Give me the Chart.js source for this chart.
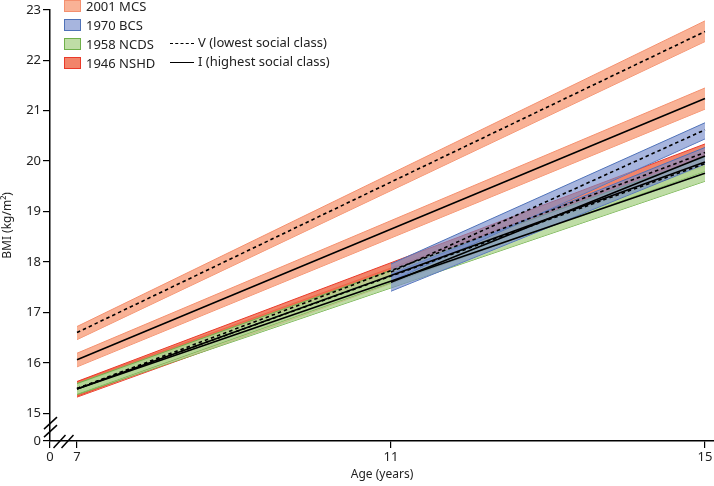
<!DOCTYPE html>
<html>
<head>
<meta charset="utf-8">
<script src="https://cdn.jsdelivr.net/npm/chart.js@4.4.1/dist/chart.umd.min.js"></script>
<style>
  body { margin: 0; background: #fff; font-family: "Noto Sans", sans-serif; }
  #wrap { position: relative; width: 714px; height: 486px; }
  #legend { position: absolute; left: 0; top: 0; font-size: 13px; color: #222; }
  .item { position: absolute; white-space: nowrap; line-height: 16px; }
  .box { position: absolute; width: 15px; height: 10px; border: 1.5px solid; }
  .ln { position: absolute; width: 24px; height: 0; border-top: 1.6px #000; }
</style>
</head>
<body>
<div id="wrap">
  <canvas id="bmiChart" width="714" height="486"></canvas>
  <div id="legend"></div>
</div>
<script>
// ages (years)
const ages = [7, 15];
const bcsAges = [11, 15];

// BMI (kg/m2), V = lowest social class, I = highest
const mcsV = [16.60, 22.57], mcsVLo = [16.46, 22.37], mcsVHi = [16.72, 22.78];
const mcsI = [16.06, 21.24], mcsILo = [15.92, 21.03], mcsIHi = [16.19, 21.45];
const bcsV = [17.80, 20.62], bcsVLo = [17.62, 20.44], bcsVHi = [17.96, 20.76];
const bcsI = [17.60, 20.10], bcsILo = [17.42, 19.94], bcsIHi = [17.76, 20.27];
const nshdV = [15.49, 20.17], nshdVLo = [15.34, 20.00], nshdVHi = [15.63, 20.34];
const nshdI = [15.48, 19.98], nshdILo = [15.32, 19.82], nshdIHi = [15.62, 20.14];
const ncdsV = [15.49, 19.95], ncdsVLo = [15.38, 19.80], ncdsVHi = [15.59, 20.08];
const ncdsI = [15.48, 19.76], ncdsILo = [15.37, 19.60], ncdsIHi = [15.58, 19.90];

const xTicks = [0, 7, 11, 15];
const yTicks = [0, 15, 16, 17, 18, 19, 20, 21, 22, 23];

// broken axes: the "0" tick sits just below the break
const X_ZERO = 6.656, X_MAX = 15.115;
const Y_ZERO = 14.45, Y_MAX = 23;

const cohorts = [
    { name: '2001 MCS', fill: 'rgba(248,165,132,0.85)', line: '#f4906f' },
    { name: '1970 BCS', fill: 'rgba(120,142,205,0.65)', line: '#4f72b8' },
    { name: '1958 NCDS', fill: 'rgba(180,215,150,0.85)', line: '#6fb04a' },
    { name: '1946 NSHD', fill: 'rgba(240,110,80,0.85)', line: '#ea3a2a' }
];

function pts(xs, ys) {
    return xs.map((x, i) => ({ x: x, y: ys[i] }));
}

function band(xs, lo, hi, c, order) {
    return [{
        data: pts(xs, hi),
        borderColor: c.line,
        borderWidth: 1,
        backgroundColor: c.fill,
        fill: { target: '+1', above: c.fill, below: c.fill },
        pointRadius: 0,
        order: order
    }, {
        data: pts(xs, lo),
        borderColor: c.line,
        borderWidth: 1,
        fill: false,
        pointRadius: 0,
        order: order
    }];
}

function line(xs, ys, dashed) {
    return {
        data: pts(xs, ys),
        borderColor: '#000',
        borderWidth: 1.6,
        borderDash: dashed ? [3.5, 3] : [],
        fill: false,
        pointRadius: 0,
        order: dashed ? 0 : 1
    };
}

const datasets = [].concat(
    band(ages, mcsVLo, mcsVHi, cohorts[0], 6),
    band(ages, mcsILo, mcsIHi, cohorts[0], 6),
    band(ages, nshdVLo, nshdVHi, cohorts[3], 5),
    band(ages, nshdILo, nshdIHi, cohorts[3], 5),
    band(ages, ncdsVLo, ncdsVHi, cohorts[2], 4),
    band(ages, ncdsILo, ncdsIHi, cohorts[2], 4),
    band(bcsAges, bcsVLo, bcsVHi, cohorts[1], 3),
    band(bcsAges, bcsILo, bcsIHi, cohorts[1], 3),
    [
        line(ages, mcsV, true), line(ages, mcsI, false),
        line(ages, ncdsV, true), line(ages, ncdsI, false),
        line(ages, nshdV, true), line(ages, nshdI, false),
        line(bcsAges, bcsV, true), line(bcsAges, bcsI, false)
    ]
);

// the // marks on both axes
const breakMarks = {
    id: 'breakMarks',
    afterDraw(chart) {
        const ctx = chart.ctx;
        const x = chart.scales.x, y = chart.scales.y;
        const ax = x.getPixelForValue(X_ZERO);
        const ay = y.getPixelForValue(Y_ZERO);
        const ym = (ay + y.getPixelForValue(15)) / 2;
        const xm = (ax + x.getPixelForValue(7)) / 2;
        ctx.save();
        ctx.strokeStyle = '#000';
        ctx.lineWidth = 1.5;
        [-4, 4].forEach(d => {
            ctx.beginPath();
            ctx.moveTo(ax - 6, ym + d + 6);
            ctx.lineTo(ax + 7, ym + d - 6);
            ctx.stroke();
            ctx.beginPath();
            ctx.moveTo(xm + d - 6, ay + 7);
            ctx.lineTo(xm + d + 6, ay - 6);
            ctx.stroke();
        });
        ctx.restore();
    }
};

const tickFont = { family: '"Noto Sans", sans-serif', size: 13 };

new Chart(document.getElementById('bmiChart'), {
    type: 'line',
    data: { datasets: datasets },
    options: {
        responsive: false,
        animation: false,
        layout: { padding: { top: 6, right: 0, left: 0, bottom: 0 } },
        plugins: { legend: { display: false }, tooltip: { enabled: false } },
        scales: {
            x: {
                type: 'linear',
                min: X_ZERO,
                max: X_MAX,
                afterBuildTicks: s => { s.ticks = xTicks.map(v => ({ value: v === 0 ? X_ZERO : v })); },
                afterFit: s => { s.height = 45; },
                ticks: {
                    font: tickFont, color: '#222', padding: 1,
                    autoSkip: false, maxRotation: 0,
                    callback: v => (v < 7 ? '0' : v)
                },
                grid: { drawOnChartArea: false, tickLength: 7, color: '#000', lineWidth: 1.2 },
                border: { color: '#000', width: 1.5 },
                title: { display: true, text: 'Age (years)', font: { family: '"Noto Sans", sans-serif', size: 12 }, color: '#222', padding: { top: 9 } }
            },
            y: {
                type: 'linear',
                min: Y_ZERO,
                max: Y_MAX,
                afterBuildTicks: s => { s.ticks = yTicks.map(v => ({ value: v === 0 ? Y_ZERO : v })); },
                afterFit: s => { s.width = 50; },
                ticks: {
                    font: tickFont, color: '#222', padding: 2, autoSkip: false,
                    callback: v => (v < 15 ? '0' : v)
                },
                grid: { drawOnChartArea: false, tickLength: 7, color: '#000', lineWidth: 1.2 },
                border: { color: '#000', width: 1.5 },
                title: { display: true, text: 'BMI (kg/m²)', font: { family: '"Noto Sans", sans-serif', size: 12 }, color: '#222', padding: 0 }
            }
        }
    },
    plugins: [breakMarks]
});

// legend, drawn as html text
const legend = document.getElementById('legend');
cohorts.forEach((c, i) => {
    const top = i * 19;
    legend.insertAdjacentHTML('beforeend',
        '<div class="box" style="left:64px;top:' + top + 'px;background:' + c.fill + ';border-color:' + c.line + '"></div>' +
        '<div class="item" style="left:86px;top:' + (top - 2) + 'px">' + c.name + '</div>');
});
[['V (lowest social class)', 'dashed', 43], ['I (highest social class)', 'solid', 62]].forEach(r => {
    legend.insertAdjacentHTML('beforeend',
        '<div class="ln" style="left:170px;top:' + r[2] + 'px;border-top-style:' + r[1] + '"></div>' +
        '<div class="item" style="left:198px;top:' + (r[2] - 9) + 'px">' + r[0] + '</div>');
});
</script>
</body>
</html>
